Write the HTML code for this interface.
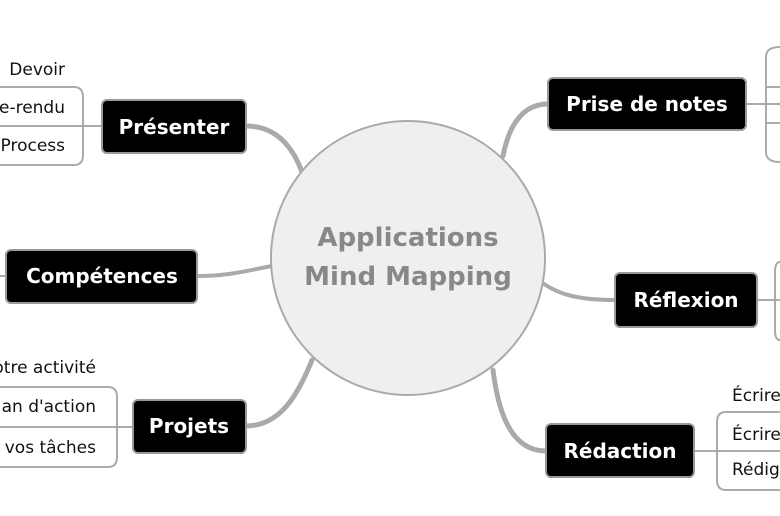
<!DOCTYPE html>
<html><head><meta charset="utf-8"><style>
html,body{margin:0;padding:0;background:#fff;}
svg{display:block;}
.n{font-family:"DejaVu Sans","Liberation Sans",sans-serif;font-weight:bold;font-size:20px;fill:#fff;text-anchor:middle;dominant-baseline:central;}
.l{font-family:"DejaVu Sans","Liberation Sans",sans-serif;font-size:17px;fill:#111;dominant-baseline:central;}
</style></head><body>
<svg width="780" height="516" viewBox="0 0 780 516" xmlns="http://www.w3.org/2000/svg">
<g fill="none" stroke="#aaa" stroke-linecap="round">
<path d="M246,126 C275,126 292,145 302,172" stroke-width="5"/>
<path d="M197,276 C230,276 250,270 272,266" stroke-width="4"/>
<path d="M246,426 C280,426 298,395 312,360" stroke-width="5"/>
<path d="M548,104 C520,104 508,130 503,156" stroke-width="5"/>
<path d="M615,300 C580,300 560,295 544,284" stroke-width="4"/>
<path d="M546,451 C510,451 498,410 493,370" stroke-width="5"/>
<g stroke-width="2">
<path d="M102,126 H0"/>
<path d="M0,87 H74 Q83,87 83,97 V155 Q83,165 74,165 H0"/>
<path d="M0,387 H108 Q117,387 117,397 V457 Q117,467 108,467 H0"/>
<path d="M133,427 H0"/>
<path d="M6,276 H0"/>
<path d="M746,104 H780"/>
<path d="M780,47 Q766,47 766,57 V152 Q766,162 780,162"/>
<path d="M766,87 H780 M766,123 H780"/>
<path d="M757,300 H780"/>
<path d="M780,262 Q775,262 775,272 V330 Q775,340 780,340"/>
<path d="M694,451 H780"/>
<path d="M780,412 H726 Q717,412 717,422 V480 Q717,490 726,490 H780"/>
</g>
</g>
<circle cx="408" cy="258" r="137" fill="#eeeff1" stroke="#aaa" stroke-width="2"/>
<text x="408" y="238" font-family="DejaVu Sans,Liberation Sans,sans-serif" font-weight="bold" font-size="26" fill="#888" text-anchor="middle" dominant-baseline="central">Applications</text>
<text x="408" y="277" font-family="DejaVu Sans,Liberation Sans,sans-serif" font-weight="bold" font-size="26" fill="#888" text-anchor="middle" dominant-baseline="central">Mind Mapping</text>
<g fill="#000" stroke="#999" stroke-width="2">
<rect x="102" y="100" width="144" height="53" rx="5"/>
<rect x="6" y="250" width="191" height="53" rx="5"/>
<rect x="133" y="400" width="113" height="53" rx="5"/>
<rect x="548" y="78" width="198" height="52" rx="5"/>
<rect x="615" y="273" width="142" height="54" rx="5"/>
<rect x="546" y="424" width="148" height="53" rx="5"/>
</g>
<text class="n" x="174" y="127">Présenter</text>
<text class="n" x="102" y="276">Compétences</text>
<text class="n" x="189" y="426">Projets</text>
<text class="n" x="647" y="104">Prise de notes</text>
<text class="n" x="686" y="300">Réflexion</text>
<text class="n" x="620" y="451">Rédaction</text>
<text class="l" x="65" y="70" text-anchor="end" font-size="17">Devoir</text>
<text class="l" x="65" y="108" text-anchor="end" font-size="17">e-rendu</text>
<text class="l" x="65" y="146" text-anchor="end" font-size="17">Process</text>
<text class="l" x="96" y="368" text-anchor="end" font-size="17">otre activité</text>
<text class="l" x="96" y="407" text-anchor="end" font-size="17">an d'action</text>
<text class="l" x="96" y="448" text-anchor="end" font-size="17">vos tâches</text>
<text class="l" x="732" y="396" font-size="17">Écrire</text>
<text class="l" x="732" y="435" font-size="17">Écrire</text>
<text class="l" x="732" y="470" font-size="17">Rédig</text>
</svg>
</body></html>
